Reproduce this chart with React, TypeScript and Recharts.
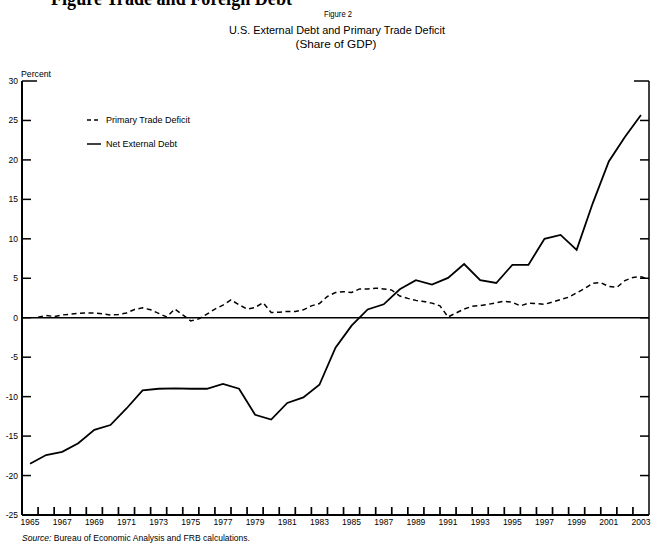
import { LineChart, Line, XAxis, YAxis, ReferenceLine, Legend } from "recharts"

// Net external debt, annual (percent of GDP)
const debtYears = [
  1965, 1966, 1967, 1968, 1969, 1970, 1971, 1972, 1973, 1974,
  1975, 1976, 1977, 1978, 1979, 1980, 1981, 1982, 1983, 1984,
  1985, 1986, 1987, 1988, 1989, 1990, 1991, 1992, 1993, 1994,
  1995, 1996, 1997, 1998, 1999, 2000, 2001, 2002, 2003,
]
const netExternalDebt = [
  -18.5, -17.4, -17.0, -15.9, -14.2, -13.6, -11.5, -9.2, -9.0, -8.95,
  -9.0, -9.0, -8.4, -9.0, -12.3, -12.9, -10.8, -10.1, -8.5, -3.8,
  -1.0, 1.05, 1.7, 3.6, 4.75, 4.2, 5.05, 6.8, 4.75, 4.4,
  6.7, 6.7, 10.0, 10.5, 8.6, 14.5, 19.8, 22.9, 25.7,
]

// Primary trade deficit, half-yearly readings from mid-1965 to mid-2003
const deficitPeriods = Array.from({ length: 77 }, (_, i) => 1965.5 + i / 2)
const primaryTradeDeficit = [
  0.05, 0.3, 0.15, 0.35, 0.45, 0.55, 0.6, 0.6, 0.5, 0.35,
  0.4, 0.6, 1.05, 1.25, 1.0, 0.55, 0.1, 1.1, 0.35, -0.4,
  -0.15, 0.45, 1.1, 1.6, 2.25, 1.65, 1.1, 1.3, 1.9, 0.65,
  0.7, 0.8, 0.8, 1.0, 1.5, 1.8, 2.7, 3.2, 3.3, 3.2,
  3.65, 3.65, 3.75, 3.65, 3.5, 2.75, 2.45, 2.2, 2.05, 1.85,
  1.5, 0.1, 0.6, 1.1, 1.45, 1.55, 1.7, 1.9, 2.1, 1.95,
  1.5, 1.85, 1.8, 1.7, 2.0, 2.3, 2.6, 3.15, 3.7, 4.35,
  4.45, 3.95, 3.85, 4.7, 5.1, 5.2, 4.9,
]

const seriesNames = ["Primary Trade Deficit", "Net External Debt"]
const yearLabels = [
  1965, 1967, 1969, 1971, 1973, 1975, 1977, 1979, 1981, 1983,
  1985, 1987, 1989, 1991, 1993, 1995, 1997, 1999, 2001, 2003,
]
const percentTicks = [-25, -20, -15, -10, -5, 0, 5, 10, 15, 20, 25, 30]

const debtData = debtYears.map((year, i) => ({ year, value: netExternalDebt[i] }))
const deficitData = deficitPeriods.map((year, i) => ({ year, value: primaryTradeDeficit[i] }))

const X_DOMAIN: [number, number] = [1964.5, 2003.5]
const Y_DOMAIN: [number, number] = [-25, 30]

// plot box: 22px left axis, 11px right axis, 30px bottom axis
const PLOT = { left: 22, top: 81, width: 627, height: 434 }
const pxToYears = (px: number) => (px * (X_DOMAIN[1] - X_DOMAIN[0])) / PLOT.width
const pxToPercent = (px: number) => (px * (Y_DOMAIN[1] - Y_DOMAIN[0])) / PLOT.height

// inward tick marks on the year boundaries
const yearBoundaries = debtYears.slice(0, -1).map((y) => y + 0.5)

const FONT = '"Liberation Sans", Arial, sans-serif'
const tickText = { fontSize: 8.5, fill: "#000", fontFamily: FONT }

function LegendRows({ payload }: any) {
  const items = [...(payload || [])].sort(
    (a: any, b: any) => seriesNames.indexOf(a.value) - seriesNames.indexOf(b.value)
  )
  return (
    <svg width={120} height={40} style={{ display: "block" }}>
      {items.map((item: any, i: number) => (
        <g key={item.value}>
          <line
            x1={2}
            x2={16}
            y1={10 + i * 24}
            y2={10 + i * 24}
            stroke="#000"
            strokeWidth={1.5}
            strokeDasharray={item.value === seriesNames[0] ? "4 3" : undefined}
          />
          <text x={21} y={13 + i * 24} fontSize={9} fontFamily={FONT} fill="#000">
            {item.value}
          </text>
        </g>
      ))}
    </svg>
  )
}

export default function App() {
  const xTickLen = pxToPercent(8)
  return (
    <div style={{ position: "absolute", left: 0, top: 0, width: 660, height: 545, background: "#fff" }}>
      <LineChart width={660} height={545} margin={{ top: PLOT.top, right: 0, bottom: 0, left: 0 }}>
        <XAxis
          type="number"
          dataKey="year"
          domain={X_DOMAIN}
          ticks={yearLabels}
          interval={0}
          height={30}
          tickSize={0}
          tickMargin={4}
          tickLine={false}
          tick={tickText}
          axisLine={{ stroke: "#000", strokeWidth: 2 }}
        />
        <YAxis
          domain={Y_DOMAIN}
          ticks={percentTicks}
          interval={0}
          width={PLOT.left}
          tickSize={0}
          tickMargin={4}
          tick={tickText}
          tickLine={false}
          axisLine={{ stroke: "#000", strokeWidth: 2 }}
        />
        <YAxis
          yAxisId="right"
          orientation="right"
          domain={Y_DOMAIN}
          ticks={percentTicks}
          width={11}
          tick={false}
          tickLine={false}
          axisLine={{ stroke: "#000", strokeWidth: 1.5 }}
        />
        {yearBoundaries.map((b) => (
          <ReferenceLine
            key={`xt${b}`}
            segment={[{ x: b, y: Y_DOMAIN[0] }, { x: b, y: Y_DOMAIN[0] + xTickLen }]}
            stroke="#000"
            strokeWidth={1.7}
            ifOverflow="visible"
          />
        ))}
        {percentTicks.map((v) => {
          const len = pxToYears(v === Y_DOMAIN[1] ? 15 : 9)
          return [
            <ReferenceLine
              key={`yl${v}`}
              segment={[{ x: X_DOMAIN[0], y: v }, { x: X_DOMAIN[0] + len, y: v }]}
              stroke="#000"
              strokeWidth={1.5}
              ifOverflow="visible"
            />,
            <ReferenceLine
              key={`yr${v}`}
              segment={[{ x: X_DOMAIN[1] - len, y: v }, { x: X_DOMAIN[1], y: v }]}
              stroke="#000"
              strokeWidth={1.5}
              ifOverflow="visible"
            />,
          ]
        })}
        <ReferenceLine y={0} stroke="#000" strokeWidth={1.4} />
        <Legend
          layout="vertical"
          align="center"
          verticalAlign="middle"
          content={LegendRows}
          wrapperStyle={{ left: 85, top: 110, width: 120, height: 40 }}
        />
        <Line
          data={deficitData}
          dataKey="value"
          name={seriesNames[0]}
          type="linear"
          stroke="#000"
          strokeWidth={1.5}
          strokeDasharray="5 3.5"
          dot={false}
          isAnimationActive={false}
        />
        <Line
          data={debtData}
          dataKey="value"
          name={seriesNames[1]}
          type="linear"
          stroke="#000"
          strokeWidth={1.8}
          dot={false}
          isAnimationActive={false}
        />
      </LineChart>
      <svg
        width={660}
        height={545}
        style={{ position: "absolute", left: 0, top: 0, pointerEvents: "none" }}
      >
        <text x={51} y={5} fontSize={20} fontWeight="bold" fontFamily='"Liberation Serif", serif' textLength={241} lengthAdjust="spacingAndGlyphs">
          Figure Trade and Foreign Debt
        </text>
        <text x={338} y={17} textAnchor="middle" fontSize={8.5} fontFamily={FONT} textLength={28} lengthAdjust="spacingAndGlyphs">
          Figure 2
        </text>
        <text x={337} y={34} textAnchor="middle" fontSize={11.5} fontFamily={FONT} textLength={216} lengthAdjust="spacingAndGlyphs">
          U.S. External Debt and Primary Trade Deficit
        </text>
        <text x={336} y={48} textAnchor="middle" fontSize={11.5} fontFamily={FONT} textLength={81} lengthAdjust="spacingAndGlyphs">
          (Share of GDP)
        </text>
        <text x={21} y={77} fontSize={9} fontFamily={FONT} textLength={30} lengthAdjust="spacingAndGlyphs">
          Percent
        </text>
        <text x={22} y={541} fontSize={9} fontFamily={FONT} textLength={228} lengthAdjust="spacingAndGlyphs">
          <tspan fontStyle="italic">Source:</tspan> Bureau of Economic Analysis and FRB calculations.
        </text>
      </svg>
    </div>
  )
}
